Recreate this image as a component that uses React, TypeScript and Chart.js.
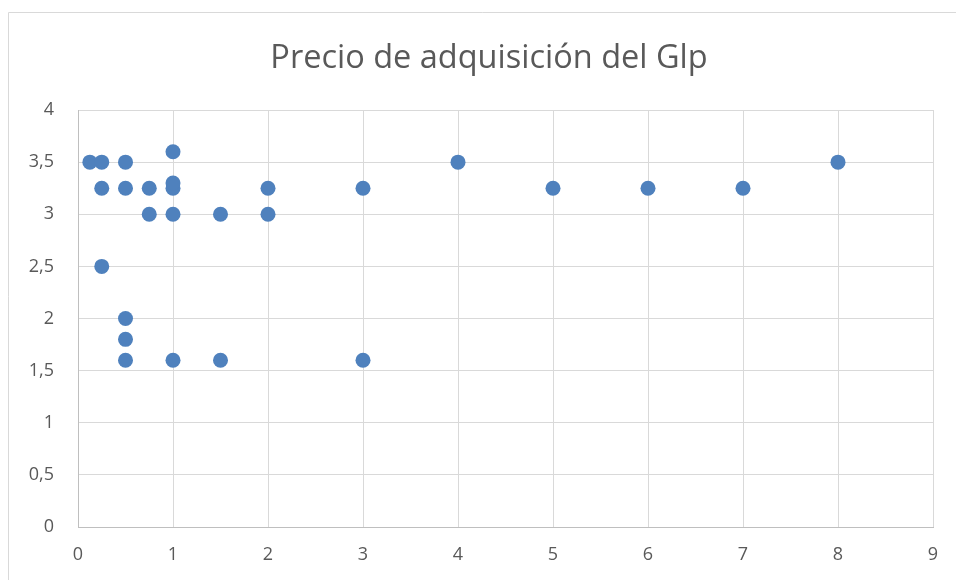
import React, { useEffect, useRef } from "react";
import { Chart, registerables } from "chart.js";

Chart.register(...registerables);

const chartTitle = "Precio de adquisición del Glp";
const xValues = [0.125, 0.25, 0.5, 4, 8, 1, 0.25, 0.5, 0.75, 1, 1, 2, 3, 5, 6, 7, 0.75, 1, 1.5, 2, 0.25, 0.5, 0.5, 0.5, 1, 1.5, 3];
const yValues = [3.5, 3.5, 3.5, 3.5, 3.5, 3.6, 3.25, 3.25, 3.25, 3.25, 3.3, 3.25, 3.25, 3.25, 3.25, 3.25, 3, 3, 3, 3, 2.5, 2, 1.8, 1.6, 1.6, 1.6, 1.6];
const xMin = 0, xMax = 9, xStep = 1;
const yMin = 0, yMax = 4, yStep = 0.5;

const FONT = "'Open Sans', 'Noto Sans', sans-serif";

const outerFrame = {
  id: "outerFrame",
  beforeDraw(chart: any) {
    const ctx = chart.ctx;
    ctx.save();
    ctx.strokeStyle = "#d9d9d9";
    ctx.lineWidth = 1;
    ctx.beginPath();
    ctx.moveTo(8.5, chart.height);
    ctx.lineTo(8.5, 12.5);
    ctx.lineTo(chart.width, 12.5);
    ctx.stroke();
    // title centred on the (partly cropped) chart frame
    ctx.fillStyle = "#595959";
    ctx.font = `normal 32.5px ${FONT}`;
    ctx.textAlign = "center";
    ctx.textBaseline = "middle";
    ctx.fillText(chartTitle, 489, 58.5);
    ctx.restore();
  },
};

export default function App() {
  const ref = useRef<HTMLCanvasElement | null>(null);
  useEffect(() => {
    if (!ref.current) return;
    const data = xValues.map((x, i) => ({ x, y: yValues[i] }));
    const chart = new Chart(ref.current, {
      type: "scatter",
      data: {
        datasets: [
          {
            data,
            backgroundColor: "#4f81bd",
            borderColor: "#4f81bd",
            borderWidth: 0,
            pointRadius: 7.5,
            pointHoverRadius: 7.5,
          },
        ],
      },
      options: {
        responsive: false,
        animation: false,
        layout: { padding: { left: 22, right: 23, top: 110, bottom: 0 } },
        plugins: {
          legend: { display: false },
          tooltip: { enabled: false },
          title: { display: false },
        },
        scales: {
          x: {
            type: "linear",
            min: xMin,
            max: xMax,
            ticks: {
              stepSize: xStep,
              color: "#595959",
              font: { family: FONT, size: 18 },
              padding: 17,
              callback: (v: any) => String(v).replace(".", ","),
            },
            grid: { color: "#d9d9d9", drawTicks: false },
            border: { color: "#bfbfbf" },
            afterFit: (s: any) => { s.height = 53; },
          },
          y: {
            type: "linear",
            min: yMin,
            max: yMax,
            ticks: {
              stepSize: yStep,
              color: "#595959",
              font: { family: FONT, size: 18 },
              padding: 24,
              callback: (v: any) => String(v).replace(".", ","),
            },
            grid: { color: "#d9d9d9", drawTicks: false },
            border: { color: "#bfbfbf" },
            afterFit: (s: any) => { s.width = 56; },
          },
        },
      },
      plugins: [outerFrame],
    });
    return () => chart.destroy();
  }, []);
  return (
    <div style={{ position: "absolute", left: 0, top: 0, width: 956, height: 580, background: "#fff" }}>
      <canvas ref={ref} width={956} height={580} />
    </div>
  );
}
